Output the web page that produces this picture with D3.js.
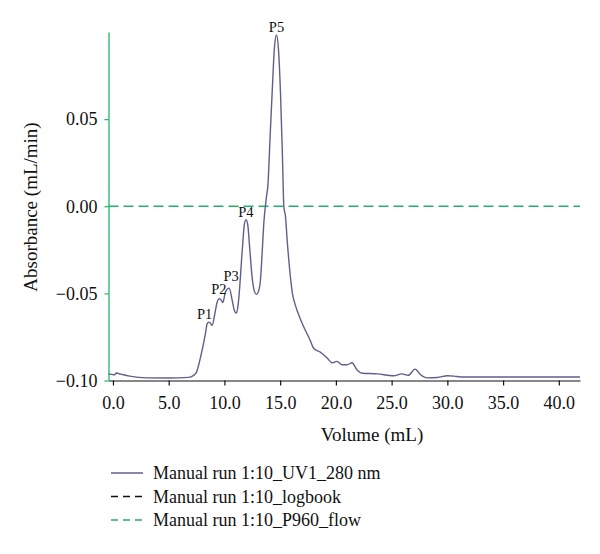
<!DOCTYPE html>
<html><head><meta charset="utf-8">
<script src="https://cdn.jsdelivr.net/npm/d3@7"></script>
<style>body{margin:0;background:#fff}svg{display:block}text{font-family:"Liberation Serif","DejaVu Serif",serif;fill:#111}</style>
</head><body><svg id="c" width="600" height="554"></svg>
<script>
const volume = [-0.4,0.0,0.15,0.3,0.6,1.5,3.0,5.0,6.8,7.2,7.5,7.86,8.3,8.45,8.6,8.75,8.9,9.14,9.35,9.56,9.7,9.86,10.1,10.43,10.7,10.9,11.05,11.2,11.3,11.6,11.8,11.95,12.1,12.28,12.5,12.7,12.88,13.05,13.23,13.4,13.53,13.77,13.9,14.1,14.28,14.5,14.67,14.85,15.03,15.2,15.33,15.48,15.63,15.92,16.1,16.37,16.8,17.1,17.7,18.0,18.6,19.2,19.66,20.1,20.55,21.0,21.45,21.9,22.35,23.7,25.2,25.9,26.5,27.1,27.6,28.2,29.1,30.0,30.6,31.2,41.9];
const absorbance = [-0.0962,-0.0966,-0.0968,-0.0957,-0.0962,-0.0975,-0.0985,-0.0986,-0.0982,-0.0972,-0.0952,-0.0866,-0.073,-0.0674,-0.0665,-0.0672,-0.0684,-0.0617,-0.055,-0.053,-0.0538,-0.0552,-0.049,-0.047,-0.054,-0.060,-0.0613,-0.058,-0.052,-0.0253,-0.010,-0.0077,-0.011,-0.025,-0.0416,-0.049,-0.0506,-0.049,-0.0425,-0.025,-0.010,0.0053,0.012,0.040,0.065,0.092,0.0983,0.090,0.065,0.030,0.0,-0.006,-0.0195,-0.0406,-0.050,-0.0569,-0.0645,-0.069,-0.077,-0.0815,-0.0837,-0.087,-0.0898,-0.089,-0.091,-0.091,-0.0898,-0.094,-0.0958,-0.0962,-0.0973,-0.0962,-0.097,-0.0935,-0.0967,-0.0985,-0.0983,-0.0973,-0.0975,-0.098,-0.098];
const peakNames = ["P1","P2","P3","P4","P5"];
const peakLabelVolume = [8.22,9.5,10.6,11.92,14.67];
const peakLabelAbs = [-0.0647,-0.0505,-0.0428,-0.0064,0.1001];
const xTicks = [0,5,10,15,20,25,30,35,40];
const yTicks = [-0.1,-0.05,0,0.05];
const flowValue = 0.0;
const legendLabels = ["Manual run 1:10_UV1_280 nm","Manual run 1:10_logbook","Manual run 1:10_P960_flow"];

const curveColor = "#5f5f8c", green = "#22b26a";
const svg = d3.select("#c");
const x = d3.scaleLinear().domain([-0.4, 41.9]).range([108.5, 580]);
const y = d3.scaleLinear().domain([-0.1, 0.1]).range([380.5, 32]);

// x axis
const xa = svg.append("g").attr("transform","translate(0,380.5)")
  .call(d3.axisBottom(x).tickValues(xTicks).tickFormat(d3.format(".1f")).tickSize(5).tickSizeOuter(0));
xa.select(".domain").attr("stroke","#111").attr("stroke-width",1.2);
xa.selectAll(".tick line").attr("stroke","#111").attr("stroke-width",1.2);
xa.selectAll("text").attr("font-size",18).attr("y",28.5).attr("dy",0).attr("fill","#111");

// y axis
const ya = svg.append("g").attr("transform","translate(108.5,0)")
  .call(d3.axisLeft(y).tickValues(yTicks).tickFormat(d3.format(".2f")).tickSize(4).tickSizeOuter(0));
ya.select(".domain").attr("stroke",green).attr("stroke-width",1.3);
ya.selectAll(".tick line").attr("stroke",green).attr("stroke-width",1.2);
ya.selectAll("text").attr("font-size",18).attr("x",-11).attr("fill","#111");

// flow dashed line
svg.append("line").attr("x1",x(-0.4)).attr("x2",x(41.9)).attr("y1",y(flowValue)).attr("y2",y(flowValue))
  .attr("stroke",green).attr("stroke-width",1.3).attr("stroke-dasharray","10,5");

// curve
const data = volume.map((v,i)=>[v,absorbance[i]]);
svg.append("path").datum(data).attr("fill","none").attr("stroke",curveColor).attr("stroke-width",1.4)
  .attr("d", d3.line().x(d=>x(d[0])).y(d=>y(d[1])).curve(d3.curveMonotoneX));

// peak labels
svg.selectAll(".pk").data(peakNames).enter().append("text")
  .attr("x",(d,i)=>x(peakLabelVolume[i])).attr("y",(d,i)=>y(peakLabelAbs[i]))
  .attr("text-anchor","middle").attr("font-size",14.5).text(d=>d);

// axis titles
svg.append("text").attr("x",372).attr("y",441).attr("text-anchor","middle").attr("font-size",19).text("Volume (mL)");
svg.append("text").attr("transform","translate(37,207) rotate(-90)").attr("text-anchor","middle").attr("font-size",19).text("Absorbance (mL/min)");

// legend
const lg = svg.append("g");
const styles = [{c:curveColor,d:null},{c:"#111",d:"7,5"},{c:green,d:"7,5"}];
legendLabels.forEach((t,i)=>{
  const yy = 473 + i*23.5;
  lg.append("line").attr("x1",111).attr("x2",143).attr("y1",yy).attr("y2",yy)
    .attr("stroke",styles[i].c).attr("stroke-width",1.5).attr("stroke-dasharray",styles[i].d);
  lg.append("text").attr("x",153).attr("y",yy+6).attr("font-size",18).text(t);
});
</script></body></html>
